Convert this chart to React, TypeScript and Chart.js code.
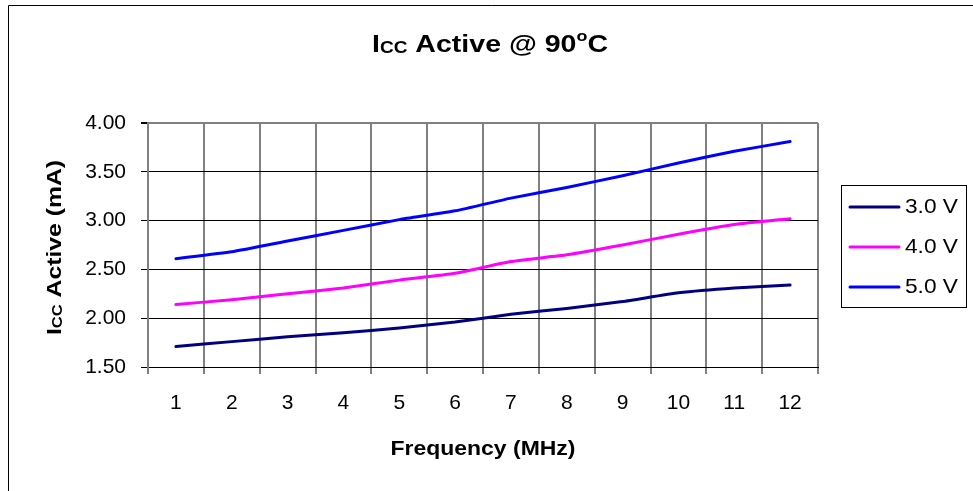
import React, { useEffect, useRef } from "react";
import { Chart, registerables } from "chart.js";

Chart.register(...registerables);

const categories = ["1", "2", "3", "4", "5", "6", "7", "8", "9", "10", "11", "12"];
const seriesLabels = ["3.0 V", "4.0 V", "5.0 V"];
const seriesColors = ["#000080", "#FF00FF", "#0000FF"];
const values30 = [1.71, 1.76, 1.81, 1.85, 1.9, 1.96, 2.04, 2.1, 2.17, 2.26, 2.31, 2.34];
const values40 = [2.14, 2.19, 2.25, 2.31, 2.39, 2.46, 2.58, 2.65, 2.75, 2.86, 2.96, 3.02];
const values50 = [2.61, 2.68, 2.79, 2.9, 3.01, 3.1, 3.23, 3.34, 3.46, 3.59, 3.71, 3.81];
const yMin = 1.5;
const yMax = 4.0;
const yStep = 0.5;

const FONT = '"Liberation Sans", Arial, Helvetica, sans-serif';

type Part = { t: string; size: number; dy?: number };

function drawParts(
  ctx: CanvasRenderingContext2D,
  parts: Part[],
  cx: number,
  baseline: number,
  targetWidth: number,
  bold: boolean
) {
  ctx.save();
  ctx.fillStyle = "#000";
  ctx.textBaseline = "alphabetic";
  ctx.textAlign = "left";
  let w = 0;
  for (const p of parts) {
    ctx.font = `${bold ? "bold " : ""}${p.size}px ${FONT}`;
    w += ctx.measureText(p.t).width;
  }
  const sx = targetWidth / w;
  ctx.translate(cx, baseline);
  ctx.scale(sx, 1);
  let x = -w / 2;
  for (const p of parts) {
    ctx.font = `${bold ? "bold " : ""}${p.size}px ${FONT}`;
    ctx.fillText(p.t, x, p.dy || 0);
    x += ctx.measureText(p.t).width;
  }
  ctx.restore();
}

const decorPlugin = {
  id: "decor",
  afterDraw(chart: any) {
    const ctx: CanvasRenderingContext2D = chart.ctx;
    const W = chart.width;
    const H = chart.height;
    // outer frame (cropped on right/bottom)
    ctx.save();
    ctx.strokeStyle = "#000";
    ctx.lineWidth = 1;
    ctx.beginPath();
    ctx.moveTo(8.5, H + 2);
    ctx.lineTo(8.5, 5.5);
    ctx.lineTo(W + 2, 5.5);
    ctx.stroke();
    ctx.restore();

    // title
    drawParts(
      ctx,
      [
        { t: "I", size: 24 },
        { t: "CC", size: 16, dy: 1 },
        { t: " Active @ 90", size: 24 },
        { t: "o", size: 15, dy: -11 },
        { t: "C", size: 24 },
      ],
      490,
      52,
      236,
      true
    );

    // x-axis title
    drawParts(ctx, [{ t: "Frequency (MHz)", size: 21 }], 483, 455, 185, true);

    // y-axis title
    ctx.save();
    ctx.translate(61, 247.5);
    ctx.rotate(-Math.PI / 2);
    drawParts(
      ctx,
      [
        { t: "I", size: 21 },
        { t: "CC", size: 14, dy: 1 },
        { t: " Active (mA)", size: 21 },
      ],
      0,
      0,
      175,
      true
    );
    ctx.restore();

    // legend
    ctx.save();
    ctx.strokeStyle = "#000";
    ctx.lineWidth = 1;
    ctx.strokeRect(841.5, 185.5, 125, 122);
    const ds = chart.data.datasets;
    const rowY = [207, 247, 287];
    for (let i = 0; i < ds.length; i++) {
      ctx.strokeStyle = ds[i].borderColor;
      ctx.lineWidth = 3;
      ctx.lineCap = "round";
      ctx.beginPath();
      ctx.moveTo(850, rowY[i]);
      ctx.lineTo(899, rowY[i]);
      ctx.stroke();
      ctx.save();
      ctx.fillStyle = "#000";
      ctx.font = `21px ${FONT}`;
      ctx.textBaseline = "alphabetic";
      const tw = ctx.measureText(ds[i].label).width;
      ctx.translate(905, rowY[i] + 6);
      ctx.scale(53 / tw, 1);
      ctx.fillText(ds[i].label, 0, 0);
      ctx.restore();
    }
    ctx.restore();
  },
};

export default function App() {
  const canvasRef = useRef<HTMLCanvasElement | null>(null);

  useEffect(() => {
    if (!canvasRef.current) return;
    const seriesValues = [values30, values40, values50];
    const chart = new Chart(canvasRef.current, {
      type: "line",
      data: {
        labels: categories,
        datasets: seriesLabels.map((label, i) => ({
          label,
          data: seriesValues[i],
          borderColor: seriesColors[i],
          backgroundColor: seriesColors[i],
          borderWidth: 3,
          pointRadius: 0,
          tension: 0.15,
          fill: false,
          borderCapStyle: "round" as const,
        })),
      },
      options: {
        responsive: false,
        animation: false,
        layout: { padding: { left: 0, right: 155, top: 123, bottom: 0 } },
        plugins: {
          legend: { display: false },
          title: { display: false },
          tooltip: { enabled: false },
        },
        scales: {
          x: {
            type: "category",
            offset: true,
            afterFit: (s: any) => {
              s.height = 491 - 367;
            },
            grid: {
              offset: true,
              color: "#808080",
              lineWidth: 2,
              tickLength: 7,
              tickColor: "#808080",
            },
            border: { display: true, color: "#000", width: 1 },
            ticks: {
              color: "#000",
              font: { family: FONT, size: 21 },
              padding: 17,
              maxRotation: 0,
            },
          },
          y: {
            min: yMin,
            max: yMax,
            afterFit: (s: any) => {
              s.width = 148;
            },
            grid: {
              color: (c: any) => (c.tick && c.tick.value === yMax ? "#808080" : "#000"),
              lineWidth: (c: any) => (c.tick && c.tick.value === yMax ? 2 : 1),
              tickLength: 7,
              tickColor: "#000",
            },
            border: { display: true, color: "#808080", width: 2 },
            ticks: {
              stepSize: yStep,
              color: "#000",
              font: { family: FONT, size: 21 },
              padding: 15,
              callback: (v: any) => Number(v).toFixed(2),
            },
          },
        },
      },
      plugins: [decorPlugin],
    });
    return () => chart.destroy();
  }, []);

  return (
    <div style={{ position: "fixed", left: 0, top: 0, width: 973, height: 491, background: "#fff" }}>
      <canvas ref={canvasRef} width={973} height={491} style={{ display: "block" }} />
    </div>
  );
}
